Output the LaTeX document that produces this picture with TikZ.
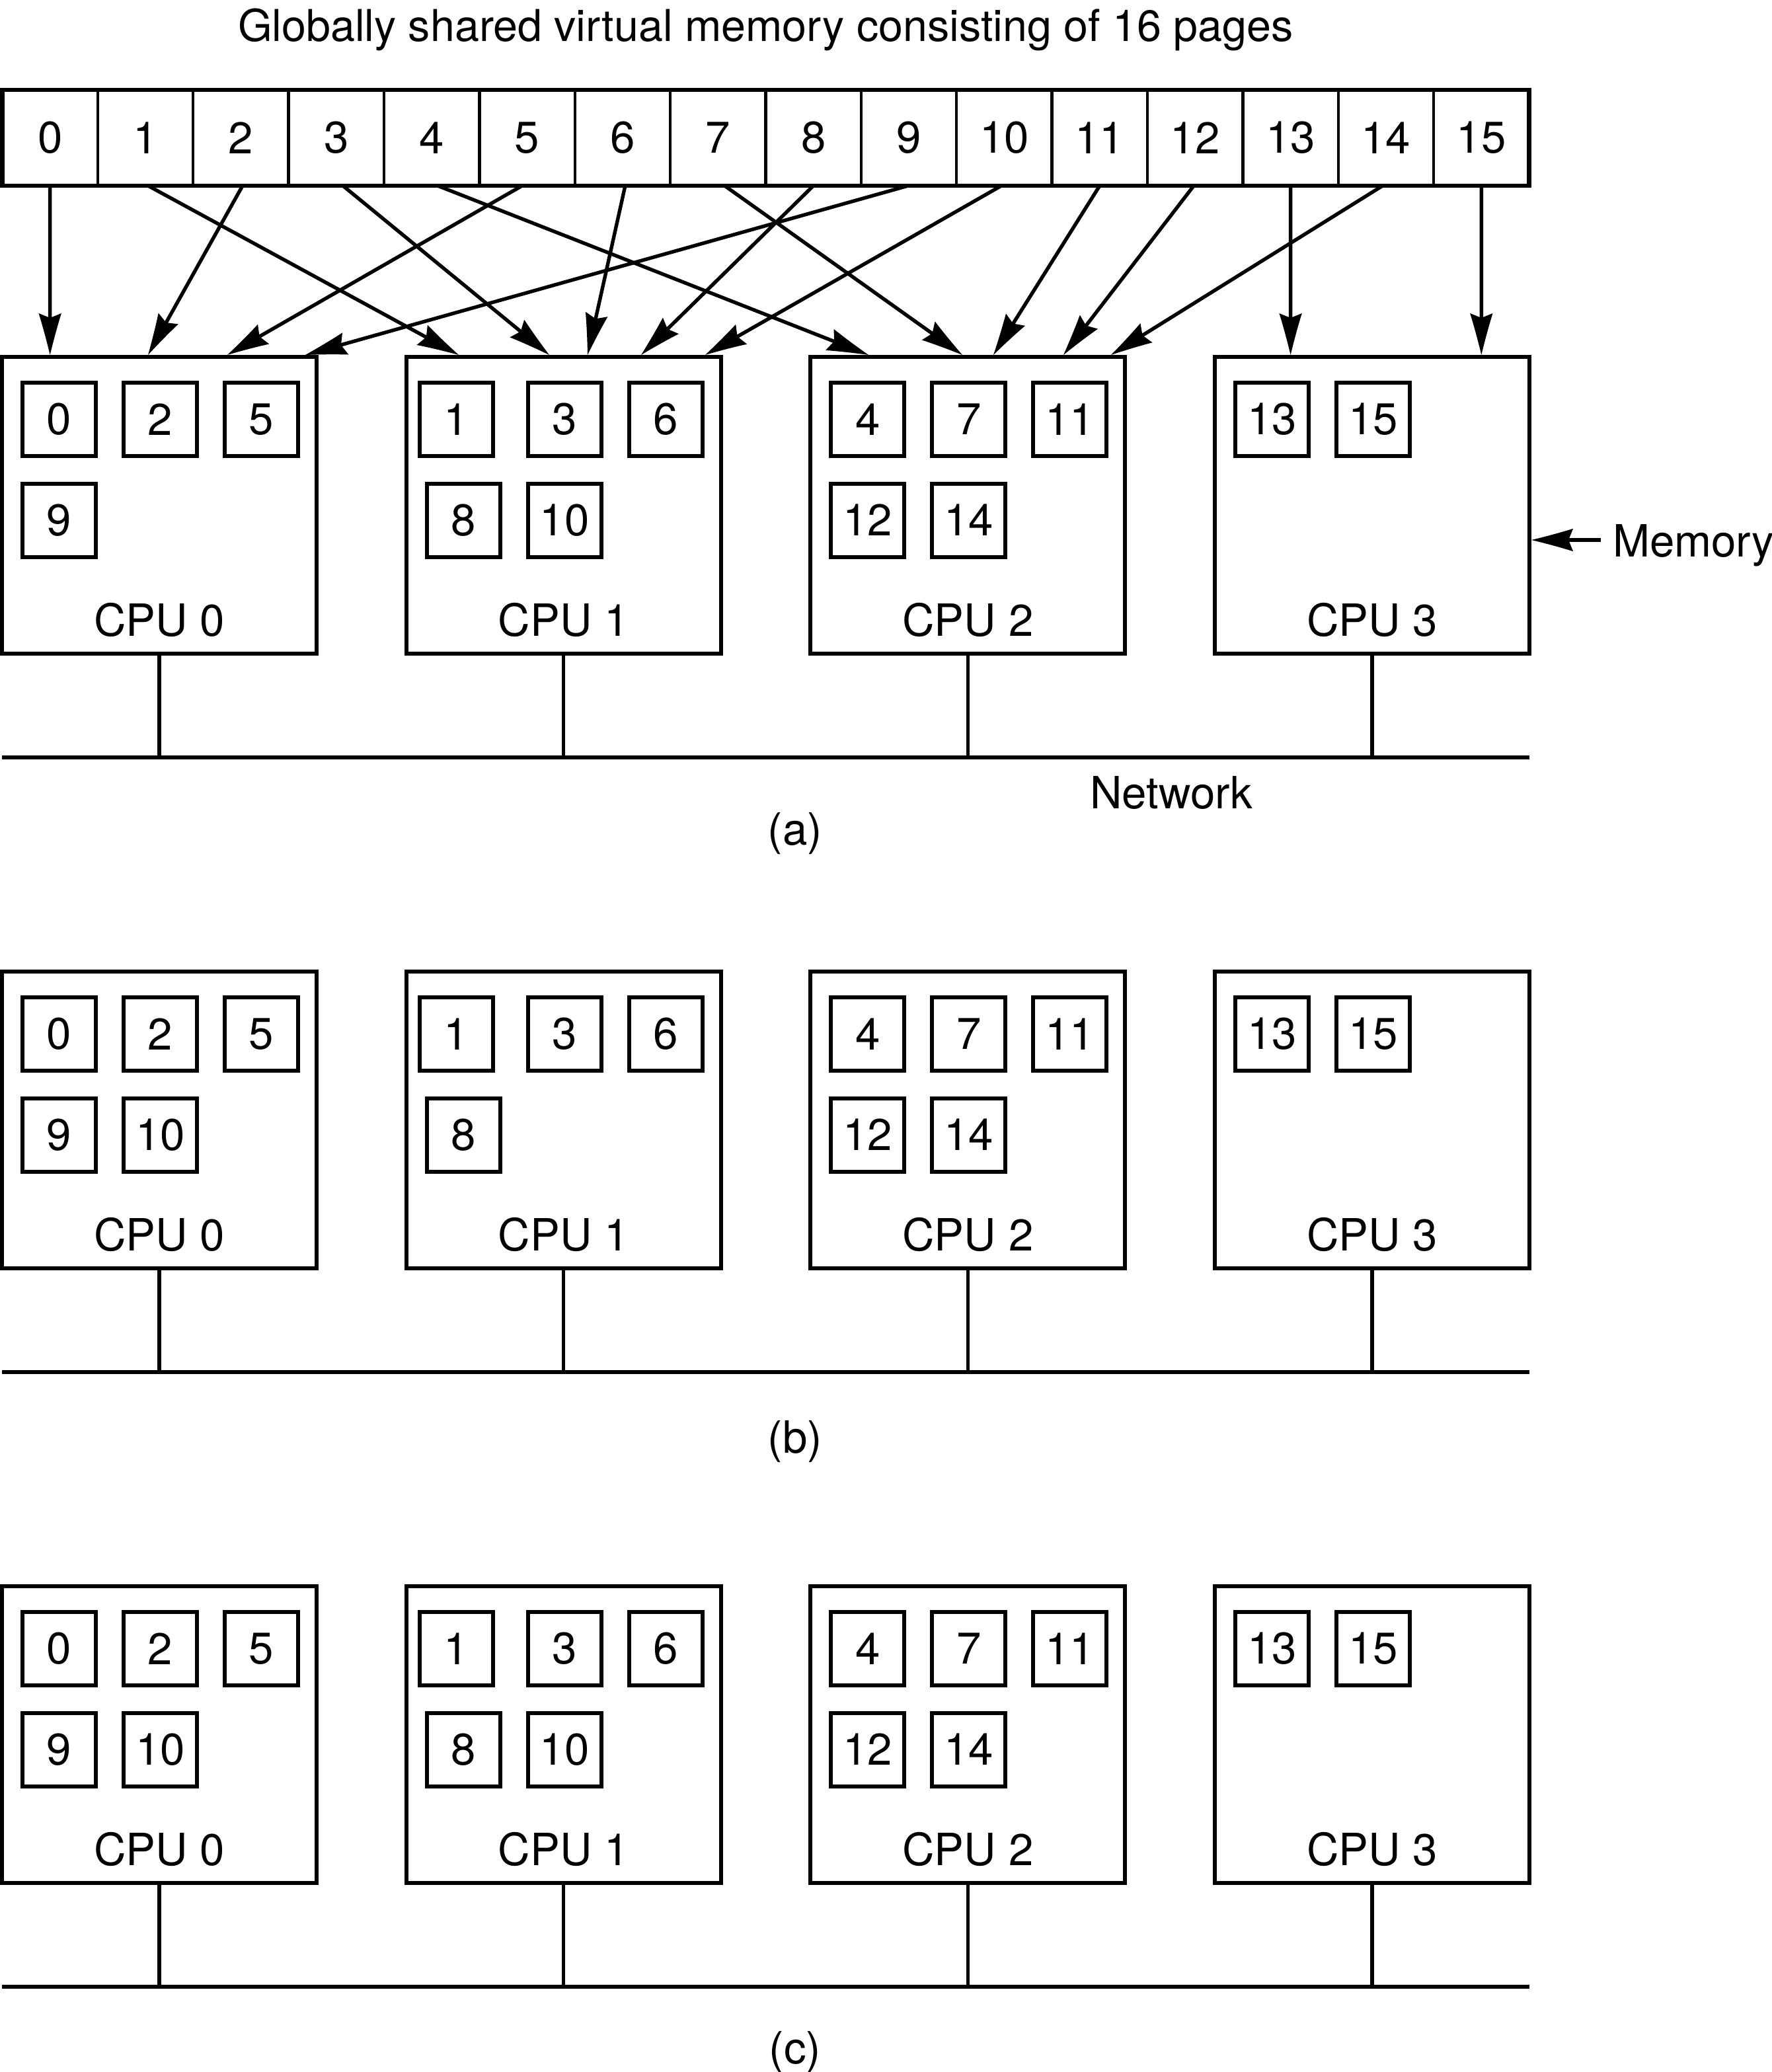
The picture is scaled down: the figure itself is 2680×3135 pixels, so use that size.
\documentclass[tikz,border=0pt]{standalone}
\usepackage{fontspec}
\setmainfont{TeX Gyre Heros}
\usetikzlibrary{arrows.meta}
\pgfdeclarearrow{
  name = Spike,
  setup code = {
    \pgfarrowssettipend{0pt}
    \pgfarrowssetbackend{-15.75pt}
    \pgfarrowssetlineend{-11pt}
  },
  drawing code = {
    \pgfpathmoveto{\pgfqpoint{0pt}{0pt}}
    \pgfpathcurveto{\pgfqpoint{-5pt}{1.2pt}}{\pgfqpoint{-11pt}{2.8pt}}{\pgfqpoint{-15.75pt}{4.3pt}}
    \pgfpathlineto{\pgfqpoint{-14pt}{0pt}}
    \pgfpathlineto{\pgfqpoint{-15.75pt}{-4.3pt}}
    \pgfpathcurveto{\pgfqpoint{-11pt}{-2.8pt}}{\pgfqpoint{-5pt}{-1.2pt}}{\pgfqpoint{0pt}{0pt}}
    \pgfpathclose
    \pgfusepathqfill
  }
}
\tikzset{
  lbl/.style={inner sep=0pt, outer sep=0pt, font=\fontsize{16.8pt}{20pt}\selectfont},
  cell/.style={draw, line width=1.1pt, minimum width=36.094pt, minimum height=36.25pt,
    inner sep=0pt, outer sep=0pt, font=\fontsize{16.8pt}{20pt}\selectfont},
  cpubox/.style={draw, line width=1.5pt, minimum width=119pt, minimum height=112.25pt, inner sep=0pt},
  page/.style={draw, line width=1.5pt, minimum width=27.75pt, minimum height=27.75pt,
    inner sep=0pt, font=\fontsize{16.8pt}{20pt}\selectfont},
  arr/.style={line width=1.35pt, -Spike},
  wire/.style={line width=1.35pt}
}
\begin{document}
\begin{tikzpicture}[x=0.25pt, y=-0.25pt]
\useasboundingbox (0,0) rectangle (2680,3135);

% title
\node[lbl, anchor=base west, font=\fontsize{16.6pt}{20pt}\selectfont] (title) at (360,63) {Globally shared virtual memory consisting of 16 pages};

% virtual memory strip
\foreach \s in {0,...,15} {
  \node[cell] (v\s) at ({3.5+144.375*(\s+0.5)}, 208.5) {\s};
}
\draw[line width=1.6pt] (v0.north west) rectangle (v15.south east);

% CPU boxes, labels, network
\foreach \pn/\pl in {0/A,1/B,2/C} {
  \pgfmathsetmacro\ytop{539.5+930*\pn}
  \foreach \k in {0,...,3} {
    \node[cpubox] (cpu\pl\k) at ({3+611.7*\k+238}, {\ytop+224.5}) {};
    \node[lbl] (lab\pl\k) at ({3+611.7*\k+238}, {\ytop+398.5}) {CPU \k};
  }
  \coordinate (net\pl w) at (3, {1146+930*\pn});
  \coordinate (net\pl e) at (2314, {1146+930*\pn});
  \draw[wire] (net\pl w) -- (net\pl e);
  \foreach \k in {0,...,3} {
    \draw[wire] (cpu\pl\k.south) -- (cpu\pl\k.south |- net\pl w);
  }
}

% pages, panel (a)
\foreach \k/\cx/\rw/\tx in {0/86.5/0/0, 0/239.5/0/2, 0/392.5/0/5, 0/86.5/1/9,
   1/75.5/0/1, 1/239.5/0/3, 1/392.5/0/6, 1/86.5/1/8, 1/239.5/1/10,
   2/86.5/0/4, 2/239.5/0/7, 2/392.5/0/11, 2/86.5/1/12, 2/239.5/1/14,
   3/86.5/0/13, 3/239.5/0/15} {
  \node[page] (pA\tx) at ({3+611.7*\k+\cx}, {539.5+95+152.5*\rw}) {\tx};
}
% pages, panel (b)
\foreach \k/\cx/\rw/\tx in {0/86.5/0/0, 0/239.5/0/2, 0/392.5/0/5, 0/86.5/1/9, 0/239.5/1/10,
   1/75.5/0/1, 1/239.5/0/3, 1/392.5/0/6, 1/86.5/1/8,
   2/86.5/0/4, 2/239.5/0/7, 2/392.5/0/11, 2/86.5/1/12, 2/239.5/1/14,
   3/86.5/0/13, 3/239.5/0/15} {
  \node[page] (pB\tx) at ({3+611.7*\k+\cx}, {1469.5+95+152.5*\rw}) {\tx};
}
% pages, panel (c)
\foreach \k/\cx/\rw/\tx/\nm in {0/86.5/0/0/0, 0/239.5/0/2/2, 0/392.5/0/5/5, 0/86.5/1/9/9, 0/239.5/1/10/10a,
   1/75.5/0/1/1, 1/239.5/0/3/3, 1/392.5/0/6/6, 1/86.5/1/8/8, 1/239.5/1/10/10b,
   2/86.5/0/4/4, 2/239.5/0/7/7, 2/392.5/0/11/11, 2/86.5/1/12/12, 2/239.5/1/14/14,
   3/86.5/0/13/13, 3/239.5/0/15/15} {
  \node[page] (pC\nm) at ({3+611.7*\k+\cx}, {2399.5+95+152.5*\rw}) {\tx};
}

% mapping arrows of (a)
\foreach \s/\dx/\ex in {0/0/75.7, 1/4/694, 2/2.6/224, 3/10/831, 4/9/1314, 5/-7.6/344,
   6/4/889, 7/10/1456, 8/0/970, 9/-1/462, 10/-4.4/1067, 11/0/1503, 12/-2/1609,
   13/0/1952.6, 14/-5/1681, 15/0/2241.3} {
  \coordinate (e\s) at (\ex,537);
  \draw[arr] ([xshift=\dx*0.25pt]v\s.south) -- (e\s);
}

% memory label
\node[lbl, anchor=base west] (memlbl) at (2440,842) {Memory};
\coordinate (memtail) at (2422,817);
\draw[arr] (memtail) -- (cpuA3.east |- memtail);

% other labels
\node[lbl] (netlbl) at (1772,1200) {Network};
\node[lbl, anchor=base] (capa) at (1203,1278) {(a)};
\node[lbl, anchor=base] (capb) at (1203,2198) {(b)};
\node[lbl, anchor=base] (capc) at (1203,3122) {(c)};
\end{tikzpicture}
\end{document}
